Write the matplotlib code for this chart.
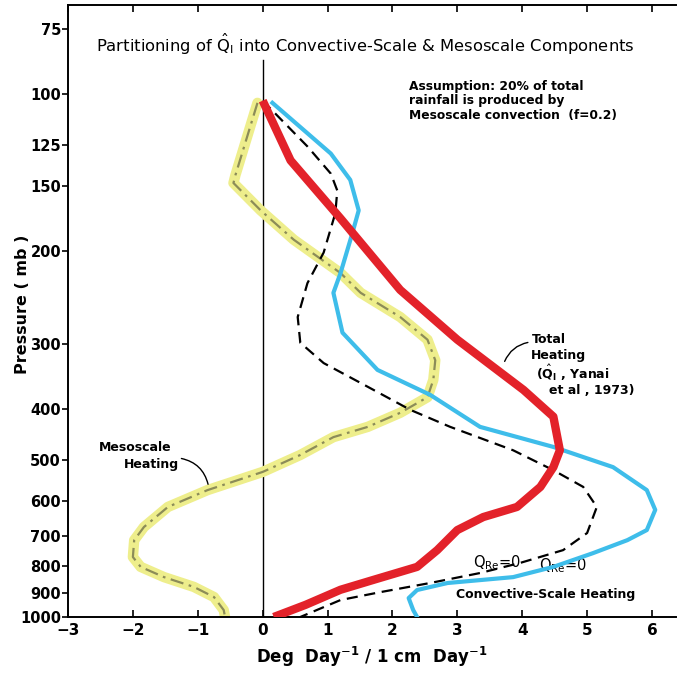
import matplotlib
matplotlib.use("Agg")
import matplotlib.pyplot as plt
from matplotlib.ticker import FixedLocator, NullLocator, FixedFormatter

# ---- data ----
total_x = [0.0, 0.43, 1.2, 2.12, 3.0, 4.02, 4.48, 4.58, 4.48, 4.28, 3.92, 3.40, 3.0, 2.69, 2.38, 1.71, 1.2, 0.66, 0.17]
total_p = [103, 134, 173, 237, 295, 368, 414, 480, 517, 564, 616, 644, 682, 745, 802, 849, 887, 948, 1000]

conv_x = [0.15, 1.05, 1.35, 1.48, 1.38, 1.2, 1.09, 1.23, 1.77, 2.58, 3.35, 4.48, 5.4, 5.92, 6.05, 5.92, 5.62, 5.09, 4.48, 3.86, 2.85, 2.38, 2.25, 2.32, 2.38]
conv_p = [104, 130, 146, 167, 185, 220, 240, 286, 337, 376, 433, 473, 517, 572, 624, 682, 713, 755, 802, 839, 861, 888, 920, 970, 1000]

qre_x = [0.0, 0.69, 1.05, 1.15, 1.12, 0.94, 0.69, 0.54, 0.58, 0.94, 1.62, 2.28, 2.89, 3.86, 4.48, 4.94, 5.15, 5.0, 4.63, 3.97, 3.35, 2.58, 1.82, 1.2, 0.58]
qre_p = [103, 126, 142, 153, 169, 201, 230, 267, 299, 327, 363, 402, 433, 480, 524, 564, 616, 691, 745, 788, 824, 861, 896, 928, 1000]

meso_x = [-0.08, -0.42, -0.45, -0.03, 0.48, 1.2, 1.51, 2.12, 2.54, 2.66, 2.63, 2.54, 2.12, 1.62, 1.09, 0.58, 0.0, -0.85, -1.46, -1.83, -1.98, -2.0, -1.88, -1.52, -1.06, -0.75, -0.60, -0.58]
meso_p = [104, 143, 148, 167, 190, 220, 240, 267, 295, 323, 352, 380, 407, 433, 453, 490, 528, 572, 616, 673, 713, 768, 802, 839, 876, 916, 970, 1000]

p_ticks = [75, 100, 125, 150, 200, 300, 400, 500, 600, 700, 800, 900, 1000]
x_ticks = [-3, -2, -1, 0, 1, 2, 3, 4, 5, 6]

plt.rcParams['font.family'] = ['DejaVu Sans']

fig = plt.figure(figsize=(6.79, 6.74), dpi=100)
ax = fig.add_axes([68/679, 1-617/674, 608/679, 612/674])

ax.set_yscale('log')
ax.set_ylim(1000, 67.6)
ax.set_xlim(-3, 6.37)

# zero line
ax.plot([0, 0], [86, 1000], color='black', lw=1.0, zorder=1)

# mesoscale heating: yellow band with olive dash-dot
ax.plot(meso_x, meso_p, color='#eeee8c', lw=7.5, solid_joinstyle='round', solid_capstyle='round', zorder=2)
ax.plot(meso_x, meso_p, color='#8c8c58', lw=1.6, linestyle=(0, (6, 2.5, 1.2, 2.5)), zorder=3)

# QRe=0 dashed
ax.plot(qre_x, qre_p, color='black', lw=1.6, linestyle=(0, (5, 3)), zorder=3)

# convective-scale heating (cyan)
ax.plot(conv_x, conv_p, color='#3ebdea', lw=3.0, solid_joinstyle='round', zorder=4)

# total heating (red)
ax.plot(total_x, total_p, color='#e3222a', lw=6.0, solid_joinstyle='round', solid_capstyle='butt', zorder=5)

# axes style
ax.spines['right'].set_visible(False)
for s in ['left', 'top', 'bottom']:
    ax.spines[s].set_linewidth(1.4)
ax.yaxis.set_major_locator(FixedLocator(p_ticks))
ax.yaxis.set_major_formatter(FixedFormatter([str(v) for v in p_ticks]))
ax.yaxis.set_minor_locator(NullLocator())
ax.set_xticks(x_ticks)
ax.set_xticklabels([str(v).replace('-', '\u2212') for v in x_ticks])
ax.tick_params(axis='y', direction='out', length=4, width=1.2, labelsize=10.5, pad=1)
ax.tick_params(axis='x', direction='in', length=5, width=1.2, labelsize=11, pad=4, top=True)
for lab in ax.get_xticklabels() + ax.get_yticklabels():
    lab.set_fontweight('bold')

ax.set_ylabel('Pressure ( mb )', fontsize=11.5, fontweight='bold')
ax.yaxis.set_label_coords(-0.062, 0.511)
ax.set_xlabel(r'Deg  Day$^{-\mathbf{1}}$ / 1 cm  Day$^{-\mathbf{1}}$', fontsize=12, fontweight='bold')
ax.xaxis.set_label_coords(0.5, -0.046)

def px(xp):
    return (xp - 262) / 64.9

def pp(yp):
    return 10 ** (2 + (yp - 94) / 523.0)

ax.text(px(365), pp(45), r'Partitioning of $\hat{\mathrm{Q}}_{\mathrm{I}}$ into Convective-Scale & Mesoscale Components',
        ha='center', va='center', fontsize=11.8)

ax.text(px(408), pp(80), 'Assumption: 20% of total\nrainfall is produced by\nMesoscale convection  (f=0.2)',
        ha='left', va='top', fontsize=8.8, fontweight='bold', linespacing=1.15)

ax.text(px(531), pp(340), 'Total', ha='left', va='center', fontsize=9, fontweight='bold')
ax.text(px(530), pp(356), 'Heating', ha='left', va='center', fontsize=9, fontweight='bold')
ax.text(px(535), pp(373), r'($\hat{\mathbf{Q}}_{\mathbf{I}}$ , Yanai', ha='left', va='center', fontsize=9, fontweight='bold')
ax.text(px(548), pp(391), 'et al , 1973)', ha='left', va='center', fontsize=9, fontweight='bold')
ax.annotate('', xy=(px(503), pp(364)), xytext=(px(530), pp(342)),
            arrowprops=dict(arrowstyle='-', color='black', lw=1.0, connectionstyle='arc3,rad=0.3'))

ax.text(px(98), pp(448), 'Mesoscale', ha='left', va='center', fontsize=9, fontweight='bold')
ax.text(px(123), pp(465), 'Heating', ha='left', va='center', fontsize=9, fontweight='bold')
ax.annotate('', xy=(px(208), pp(487)), xytext=(px(178), pp(458)),
            arrowprops=dict(arrowstyle='-', color='black', lw=1.0, connectionstyle='arc3,rad=-0.35'))

ax.text(px(472), pp(563), r'Q$_{\mathrm{Re}}$=0', ha='left', va='center', fontsize=10.5, zorder=6)
ax.text(px(538), pp(566), r'Q$_{\mathrm{Re}}$=0', ha='left', va='center', fontsize=10.5, zorder=3)
ax.text(px(455), pp(595), 'Convective-Scale Heating', ha='left', va='center', fontsize=9, fontweight='bold', zorder=6)

fig.savefig('out.png', dpi=100)
